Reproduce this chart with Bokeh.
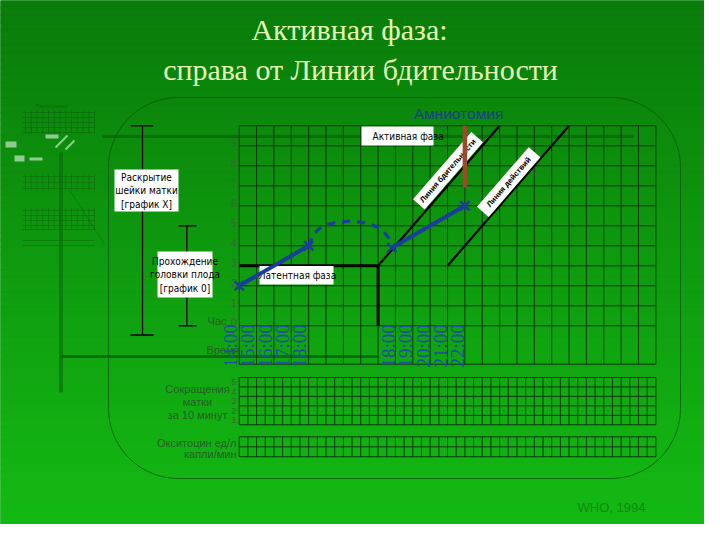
import numpy as np
from bokeh.plotting import figure
from bokeh.models import Range1d
from bokeh.core.properties import value
from bokeh.embed import file_html
from bokeh.resources import INLINE

# ---------------- data ----------------
hours = list(range(0, 25))
half_hours = [h / 2 for h in range(0, 49)]
dilation_rows = list(range(0, 11))
dilation_tick_labels = ["1", "2", "3", "4", "5", "6", "7", "8", "9"]
dilation_tick_values = [1, 2, 3, 4, 5, 6, 7, 8, 9]
contraction_rows = [0, 1, 2, 3, 4, 5]
contraction_tick_labels = ["5", "4", "3", "2", "1"]
contraction_tick_values = [4.5, 3.5, 2.5, 1.5, 0.5]
oxytocin_rows = [0, 1, 2]

latent_hours = [0, 8]
latent_cm = [3, 3]
latent_drop_hours = [8, 8]
latent_drop_cm = [3, 0]
alert_hours = [8, 15]
alert_cm = [3, 10]
action_hours = [12, 19]
action_cm = [3, 10]
amniotomy_hours = [13, 13]
amniotomy_cm = [6.9, 10]

obs1_hours = [0, 4]
obs1_cm = [2, 4]
transition_hours = [4.0, 4.3, 4.8, 5.5, 6.5, 7.5, 8.2, 8.6, 8.8]
transition_cm = [4.0, 4.6, 5.0, 5.15, 5.25, 5.1, 4.85, 4.4, 3.9]
obs2_hours = [8.8, 13]
obs2_cm = [3.9, 6]
marker_hours = [0, 4, 8.8, 13]
marker_cm = [2, 4, 3.9, 6]

time_labels_1 = ["14:00", "15:00", "16:00", "17:00", "18:00"]
time_pos_1 = [-0.5, 0.5, 1.5, 2.5, 3.5]
time_labels_2 = ["18:00", "19:00", "20:00", "21:00", "22:00"]
time_pos_2 = [8.6, 9.6, 10.6, 11.6, 12.6]

# ---------------- layout helpers (reference pixel -> data) ----------------
W, H, OFF = 704, 524, 8
X0, SX = 246.7, 17.36     # px of hour 0, px per hour
Y0, SY = 333.3, 20.0      # px of 0 cm, px per cm
C0, CS = 432.3, 9.46      # contraction grid
O0, OS = 464.3, 10.0      # oxytocin grid


def X(px):
    return (np.asarray(px, dtype=float) - X0) / SX


def Y(py):
    return (Y0 - np.asarray(py, dtype=float)) / SY


p = figure(width=W, height=H, output_backend="svg", toolbar_location=None,
           x_range=Range1d(float(X(OFF)), float(X(OFF + W))),
           y_range=Range1d(float(Y(OFF + H)), float(Y(OFF))),
           x_axis_location=None, y_axis_location=None, min_border=0)
p.extra_y_ranges = {
    "contr": Range1d((C0 - (OFF + H)) / CS, (C0 - OFF) / CS),
    "oxy": Range1d((O0 - (OFF + H)) / OS, (O0 - OFF) / OS),
}
p.outline_line_color = None
p.background_fill_color = "#109c10"
p.border_fill_color = "#109c10"

NARROW = "DejaVu Sans Condensed, Liberation Sans"
SANS = "Liberation Sans"
SERIF = "Liberation Serif"
BLUE = "#1b3d9e"
TIME_BLUE = "#1f4f9f"
GRID = "#0c2c0c"
DKGREEN_TXT = "#255f25"
TICK_TXT = "#3a663a"

# ---------------- background gradient ----------------
n = 70
edges = np.linspace(OFF, OFF + H, n + 1)
top_c = np.array([10, 124, 10])
bot_c = np.array([20, 186, 20])
cols = []
for i in range(n):
    f = (i + 0.5) / n
    c = (top_c + (bot_c - top_c) * f).astype(int)
    cols.append("#%02x%02x%02x" % tuple(c))
p.quad(left=float(X(OFF)), right=float(X(OFF + W)), top=Y(edges[:-1]), bottom=Y(edges[1:]),
       fill_color=cols, line_color=cols, line_width=1)

# ---------------- thumbnail (decorative) ----------------
TH = "#0a5a0a"
thumb_vx = np.linspace(33, 102, 13)
p.multi_line(xs=[[float(X(v)), float(X(v))] for v in thumb_vx],
             ys=[[float(Y(118)), float(Y(141))] for _ in thumb_vx], line_color=TH, line_alpha=0.45, line_width=1)
p.multi_line(xs=[[float(X(v)), float(X(v))] for v in thumb_vx],
             ys=[[float(Y(182)), float(Y(198))] for _ in thumb_vx], line_color=TH, line_alpha=0.4, line_width=1)
p.multi_line(xs=[[float(X(v)), float(X(v))] for v in thumb_vx],
             ys=[[float(Y(216)), float(Y(238))] for _ in thumb_vx], line_color=TH, line_alpha=0.4, line_width=1)
for hy in [120, 125, 130, 135, 140, 184, 190, 196, 218, 223, 228, 233, 237, 248, 253]:
    p.line([float(X(30)), float(X(102))], [float(Y(hy)), float(Y(hy))], line_color=TH, line_alpha=0.4, line_width=1)
p.line([float(X(68.5)), float(X(68.5))], [float(Y(160)), float(Y(400))], line_color="#0a6a0a", line_width=4, line_alpha=0.6)
p.line([float(X(77)), float(X(112))], [float(Y(197)), float(Y(252))], line_color=TH, line_alpha=0.4, line_width=1)
p.quad(left=X([53, 13, 22, 37]), right=X([66, 24, 32, 50]), top=Y([142, 149, 163, 165]),
       bottom=Y([146, 155, 169, 168]), fill_color="white", fill_alpha=0.55, line_color=None)
p.multi_line(xs=[[float(X(63)), float(X(75))], [float(X(73)), float(X(82))]],
             ys=[[float(Y(155)), float(Y(143))], [float(Y(157)), float(Y(148))]],
             line_color="white", line_width=2, line_alpha=0.55)
p.text(x=[float(X(59))], y=[float(Y(113))], text=["Партограмма"], text_font=value(SANS),
       text_font_size="5px", text_color=TH, text_alpha=0.7, text_align="center", text_baseline="middle")

# ---------------- rounded frame ----------------
l, t, r, b, rad = 116, 105, 688, 486, 70
pxs, pys = [], []
for cx, cy, a0, a1 in [(r - rad, t + rad, -90, 0), (r - rad, b - rad, 0, 90),
                       (l + rad, b - rad, 90, 180), (l + rad, t + rad, 180, 270)]:
    for a in np.linspace(np.radians(a0), np.radians(a1), 24):
        pxs.append(cx + rad * np.cos(a))
        pys.append(cy + rad * np.sin(a))
pxs.append(pxs[0]); pys.append(pys[0])
p.line(X(pxs), Y(pys), line_color="#0a5a0a", line_width=1, line_alpha=0.8)

# faint shadow lines
p.line([float(X(110)), float(X(641))], [float(Y(144)), float(Y(144))], line_color="#0a5a0a", line_width=3, line_alpha=0.6)
p.line([float(X(67)), 8], [float(Y(364)), float(Y(364))], line_color="#0a5a0a", line_width=3, line_alpha=0.7)

# ---------------- main grid ----------------
time_bottom = float(Y(371.7))
p.multi_line(xs=[[h, h] for h in hours], ys=[[time_bottom, 10] for _ in hours],
             line_color=GRID, line_width=1, line_alpha=0.9)
p.multi_line(xs=[[0, 24] for _ in dilation_rows] + [[0, 24]],
             ys=[[c, c] for c in dilation_rows] + [[time_bottom, time_bottom]],
             line_color=GRID, line_width=1, line_alpha=0.9)

# contraction grid
p.multi_line(xs=[[h, h] for h in half_hours], ys=[[0, 5] for _ in half_hours],
             line_color=GRID, line_width=1, line_alpha=0.9, y_range_name="contr")
p.multi_line(xs=[[0, 24] for _ in contraction_rows], ys=[[c, c] for c in contraction_rows],
             line_color=GRID, line_width=1, line_alpha=0.9, y_range_name="contr")
# oxytocin grid
p.multi_line(xs=[[h, h] for h in half_hours], ys=[[0, 2] for _ in half_hours],
             line_color=GRID, line_width=1, line_alpha=0.9, y_range_name="oxy")
p.multi_line(xs=[[0, 24] for _ in oxytocin_rows], ys=[[c, c] for c in oxytocin_rows],
             line_color=GRID, line_width=1, line_alpha=0.9, y_range_name="oxy")

# tick labels
p.text(x=[float(X(244))] * len(dilation_tick_values), y=[v + 0.13 for v in dilation_tick_values],
       text=dilation_tick_labels, text_font=value(SANS), text_font_size="10px", text_color=TICK_TXT,
       text_align="right", text_baseline="middle")
p.text(x=[float(X(244))], y=[0.2], text=["0"], text_font=value(SANS), text_font_size="10px",
       text_color=TICK_TXT, text_align="right", text_baseline="middle")
p.text(x=[float(X(234))], y=[0.25], text=["Час"], text_font=value(SANS), text_font_size="11px",
       text_color=DKGREEN_TXT, text_align="right", text_baseline="middle")
p.text(x=[float(X(247))], y=[float(Y(357))], text=["Время"], text_font=value(SANS), text_font_size="11px",
       text_color=DKGREEN_TXT, text_align="right", text_baseline="middle")
p.text(x=[float(X(244))] * 5, y=contraction_tick_values, text=contraction_tick_labels,
       text_font=value(SANS), text_font_size="9.5px", text_color=TICK_TXT,
       text_align="right", text_baseline="middle", y_range_name="contr")
p.text(x=[float(X(205))] * 3, y=Y([396, 409, 422]), text=["Сокращения", "матки", "за 10 минут"],
       text_font=value(SANS), text_font_size="11px", text_color=DKGREEN_TXT,
       text_align="center", text_baseline="middle")
p.text(x=[float(X(244))] * 2, y=Y([450, 461]), text=["Окситоцин ед/л", "капли/мин"],
       text_font=value(SANS), text_font_size="11px", text_color=DKGREEN_TXT,
       text_align="right", text_baseline="middle")

# brackets
p.multi_line(xs=[[float(X(150))] * 2, [float(X(138)), float(X(161))], [float(X(138)), float(X(161))]],
             ys=[[10, float(Y(342.5))], [10, 10], [float(Y(342.5))] * 2],
             line_color="black", line_width=1.3)
p.multi_line(xs=[[float(X(194.3))] * 2, [float(X(186)), float(X(204))], [float(X(186)), float(X(204))]],
             ys=[[5, 0], [5, 5], [0, 0]], line_color="black", line_width=1.3)

# ---------------- reference lines ----------------
p.line(latent_hours, latent_cm, line_color="black", line_width=3)
p.line(latent_drop_hours, latent_drop_cm, line_color="black", line_width=3)
p.line(alert_hours, alert_cm, line_color="black", line_width=2.2)
p.line(action_hours, action_cm, line_color="black", line_width=2.2)

# ---------------- white label boxes ----------------
p.quad(left=X([122, 165, 267, 369]), right=X([186, 220, 341, 441]),
       top=Y([177, 259, 273.5, 134]), bottom=Y([219, 305, 292, 153]),
       fill_color="white", line_color=None)
p.text(x=[float(X(154))] * 3, y=Y([184.5, 198, 211.5]), text=["Раскрытие", "шейки матки", "[график X]"],
       text_font=value(NARROW), text_font_size="10px", text_color="black",
       text_align="center", text_baseline="middle")
p.text(x=[float(X(192.5))] * 3, y=Y([268.5, 282, 295.5]), text=["Прохождение", "головки плода", "[график 0]"],
       text_font=value(NARROW), text_font_size="10px", text_color="black",
       text_align="center", text_baseline="middle")
p.text(x=[float(X(305))], y=[float(Y(283))], text=["Латентная фаза"], text_font=value(NARROW),
       text_font_size="10px", text_color="black", text_align="center", text_baseline="middle")
p.text(x=[float(X(380))], y=[float(Y(144))], text=["Активная фаза"], text_font=value(NARROW),
       text_font_size="10px", text_color="black", text_align="left", text_baseline="middle")

# diagonal labels
ANG = float(np.arctan2(SY, SX))
p.rect(x=X([455.5, 516.2]), y=Y([178.3, 189.6]), width=[89, 79], height=[15.5, 15.5],
       width_units="screen", height_units="screen", angle=ANG,
       fill_color="white", line_color=None)
p.text(x=X([455.5, 516.2]), y=Y([178.3, 189.6]), text=["Линия бдительности", "Линия действий"],
       angle=ANG, text_font=value(SANS), text_font_style="bold", text_font_size="7.8px",
       text_color="black", text_align="center", text_baseline="middle")

# ---------------- observations ----------------
p.line(obs1_hours, obs1_cm, line_color=BLUE, line_width=4)
p.line(transition_hours, transition_cm, line_color=BLUE, line_width=3.2, line_dash="8 7")
p.line(obs2_hours, obs2_cm, line_color=BLUE, line_width=4)
p.scatter(marker_hours, marker_cm, marker="x", size=13, line_width=2.5, line_color=BLUE)

# amniotomy
p.line(amniotomy_hours, amniotomy_cm, line_color="#9b4a2a", line_width=4.5)
p.text(x=[float(X(466))], y=[float(Y(121))], text=["Амниотомия"], text_font=value(SANS),
       text_font_size="15.5px", text_color="#173f8c", text_align="center", text_baseline="middle")

# time labels
p.text(x=time_pos_1, y=[float(Y(375))] * 5, text=time_labels_1, angle=np.pi / 2,
       text_font=value(SERIF), text_font_size="19px", text_color=TIME_BLUE,
       text_align="left", text_baseline="middle")
p.text(x=time_pos_2, y=[float(Y(375))] * 5, text=time_labels_2, angle=np.pi / 2,
       text_font=value(SERIF), text_font_size="19px", text_color=TIME_BLUE,
       text_align="left", text_baseline="middle")

# ---------------- title & source ----------------
p.text(x=[float(X(357)), float(X(368))], y=Y([37, 77]),
       text=["Активная фаза:", "справа от Линии бдительности"], text_font=value(SERIF),
       text_font_size="30px", text_color="#e6f5b8", text_align="center", text_baseline="alphabetic")
p.text(x=[float(X(585))], y=[float(Y(515))], text=["WHO, 1994"], text_font=value(SANS),
       text_font_size="13px", text_color="#0c8c0c", text_align="left", text_baseline="middle")

open("out.html", "w").write(file_html(p, INLINE))
